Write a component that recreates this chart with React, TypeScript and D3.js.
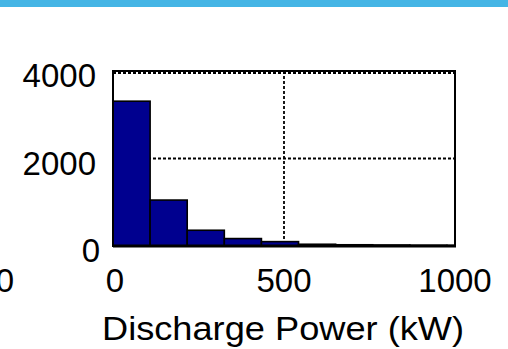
import React from "react";
import * as d3 from "d3";

// Histogram of discharge power: bin edges (kW) and counts per bin
const binEdges = [0, 108.5, 217, 325.5, 434, 542.5, 651, 759.5, 868, 976.5, 1085];
const binCounts = [3310, 1050, 360, 170, 100, 40, 28, 22, 16, 12];

const xTicks = [0, 500, 1000];
const yTicks = [0, 2000, 4000];
const xLabel = "Discharge Power (kW)";

const W = 508;
const H = 349;
const plot = { left: 113, right: 455, top: 71, bottom: 246 };
const FONT = "'Liberation Sans', Arial, Helvetica, sans-serif";

export default function App() {
  const x = d3.scaleLinear().domain([0, 1000]).range([plot.left, plot.right]);
  const y = d3.scaleLinear().domain([0, 4000]).range([plot.bottom, plot.top]);

  const bins = binCounts.map((c, i) => ({ x0: binEdges[i], x1: binEdges[i + 1], count: c }));

  return (
    <svg
      width={W}
      height={H}
      viewBox={`0 0 ${W} ${H}`}
      style={{ position: "absolute", left: 0, top: 0, background: "#fff" }}
    >
      <defs>
        <clipPath id="plotClip">
          <rect x={plot.left} y={plot.top - 2} width={plot.right - plot.left} height={plot.bottom - plot.top + 4} />
        </clipPath>
      </defs>

      {/* header band */}
      <rect x={0} y={0} width={W} height={7} fill="#45b5e5" />

      {/* neighbouring panel's last tick label, cut by the edge */}
      <text x={14} y={292} fontFamily={FONT} fontSize={33} textAnchor="end" fill="#000">
        1000
      </text>

      {/* grid */}
      <g stroke="#000" strokeWidth={1.8} strokeDasharray="3,2" fill="none">
        {yTicks
          .filter((t) => t !== 0)
          .map((t) => (
            <line key={`gy${t}`} x1={plot.left} x2={plot.right} y1={y(t) + (t === 4000 ? 2 : 0)} y2={y(t) + (t === 4000 ? 2 : 0)} />
          ))}
        {xTicks
          .filter((t) => t !== 0 && t !== 1000)
          .map((t) => (
            <line key={`gx${t}`} x1={x(t)} x2={x(t)} y1={plot.top} y2={plot.bottom} />
          ))}
      </g>

      {/* bars */}
      <g clipPath="url(#plotClip)">
        {bins.map((b, i) => (
          <rect
            key={i}
            x={x(b.x0)}
            y={y(b.count)}
            width={x(b.x1) - x(b.x0)}
            height={plot.bottom - y(b.count)}
            fill="#00008f"
            stroke="#000"
            strokeWidth={1.6}
          />
        ))}
      </g>

      {/* axes box */}
      <rect
        x={plot.left}
        y={plot.top}
        width={plot.right - plot.left}
        height={plot.bottom - plot.top}
        fill="none"
        stroke="#000"
        strokeWidth={2}
      />
      <line x1={plot.left} x2={plot.right + 1} y1={plot.bottom} y2={plot.bottom} stroke="#000" strokeWidth={3} />

      {/* y tick labels */}
      {yTicks.map((t) => (
        <text
          key={`yl${t}`}
          x={plot.left - (t === 0 ? 13 : 17)}
          y={y(t) + 16}
          fontFamily={FONT}
          fontSize={33}
          textAnchor="end"
          fill="#000"
        >
          {t}
        </text>
      ))}

      {/* x tick labels */}
      {xTicks.map((t) => (
        <text
          key={`xl${t}`}
          x={x(t) + (t === 0 ? 2 : 0)}
          y={292}
          fontFamily={FONT}
          fontSize={33}
          textAnchor="middle"
          fill="#000"
        >
          {t}
        </text>
      ))}

      {/* x axis title */}
      <text
        x={102}
        y={340}
        fontFamily={FONT}
        fontSize={34}
        textLength={362}
        lengthAdjust="spacingAndGlyphs"
        fill="#000"
      >
        {xLabel}
      </text>
    </svg>
  );
}
